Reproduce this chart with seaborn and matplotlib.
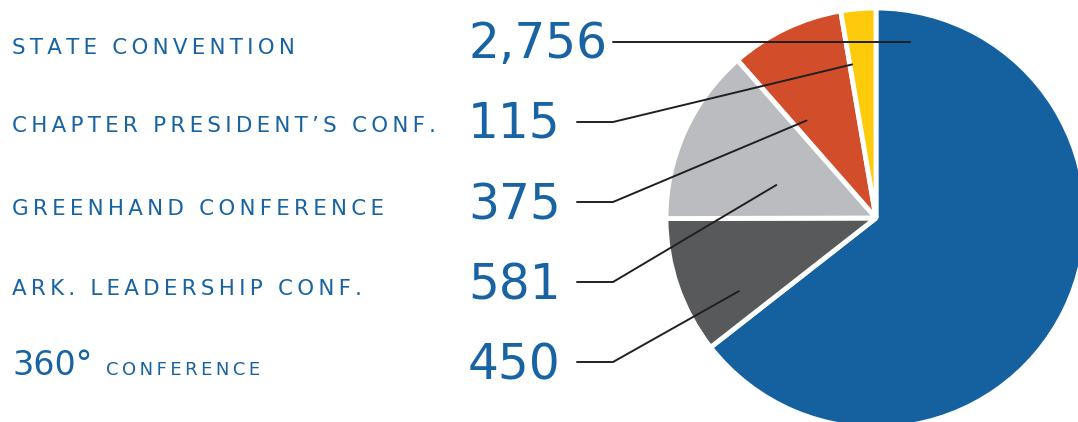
# ============================================================================
# IMPORTS
# ============================================================================

import numpy as np
import matplotlib
matplotlib.use("Agg")
import matplotlib.pyplot as plt
import seaborn as sns

# ============================================================================
# DATA
# ============================================================================

categories = ["STATE CONVENTION", "CHAPTER PRESIDENT’S CONF.", "GREENHAND CONFERENCE",
              "ARK. LEADERSHIP CONF.", "360° CONFERENCE"]
attendance = [2756, 115, 375, 581, 450]
slice_colors = ["#1561a0", "#fdcb0b", "#d24e2b", "#bbbcbf", "#58595b"]

# pie is drawn clockwise from the top: state first, then the rest from the bottom up
pie_order = [0, 4, 3, 2, 1]

# ============================================================================
# PLOT
# ============================================================================
sns.set_theme(style="white")
plt.rcParams['font.family'] = ['DejaVu Sans']

W, H = 1078, 422
TEXT_BLUE = "#1763a3"
LINE_COL = "#231f20"


def tracked(s, gap="\u2009"):
    # wide letter spacing like the original layout
    return gap.join(s)


fig = plt.figure(figsize=(W / 100, H / 100), dpi=100)
ax = fig.add_axes([0, 0, 1, 1])

cx, cy, R = 876, H - 218, 210
wedges, _ = ax.pie([attendance[i] for i in pie_order],
                   colors=[slice_colors[i] for i in pie_order],
                   startangle=90, counterclock=False,
                   center=(cx, cy), radius=R,
                   wedgeprops=dict(edgecolor="white", linewidth=3.5, joinstyle="bevel"))
ax.set_xlim(0, W)
ax.set_ylim(0, H)
ax.set_aspect("auto")
ax.axis("off")

# text rows (baselines in pixels from top)
label_base = [54, 132, 215, 295, 375]
num_base = [58, 138, 220, 300, 380]
for i, cat in enumerate(categories):
    yb = H - label_base[i]
    if cat.startswith("360"):
        big, small = cat.split(" ", 1)
        ax.text(12, yb, big, fontsize=24, color=TEXT_BLUE, va="baseline")
        ax.text(106, yb, tracked(small, "\u200a\u200a"), fontsize=13,
                color=TEXT_BLUE, va="baseline")
    else:
        ax.text(12, yb, tracked(cat), fontsize=15.4, color=TEXT_BLUE, va="baseline")
    ax.text(468, H - num_base[i], f"{attendance[i]:,}", fontsize=35,
            color=TEXT_BLUE, va="baseline")

# connector lines
wedge_of = {cat_idx: w for cat_idx, w in zip(pie_order, wedges)}
line_y = [42, 122, 202, 282, 362]
anchor_frac = {1: 0.74, 2: 0.57, 3: 0.50, 4: 0.74}
anchor_shift = {1: 4, 2: 10, 3: 6, 4: 9}
ax.plot([613, cx + 0.16 * R], [H - line_y[0]] * 2, color=LINE_COL, lw=1.4)
for i in range(1, 5):
    w = wedge_of[i]
    mid = np.deg2rad((w.theta1 + w.theta2) / 2 + anchor_shift[i])
    ex = cx + anchor_frac[i] * R * np.cos(mid)
    ey = cy + anchor_frac[i] * R * np.sin(mid)
    ax.plot([577, 613, ex], [H - line_y[i], H - line_y[i], ey],
            color=LINE_COL, lw=1.4, solid_joinstyle="miter")

plt.savefig("out.png", dpi=100)
